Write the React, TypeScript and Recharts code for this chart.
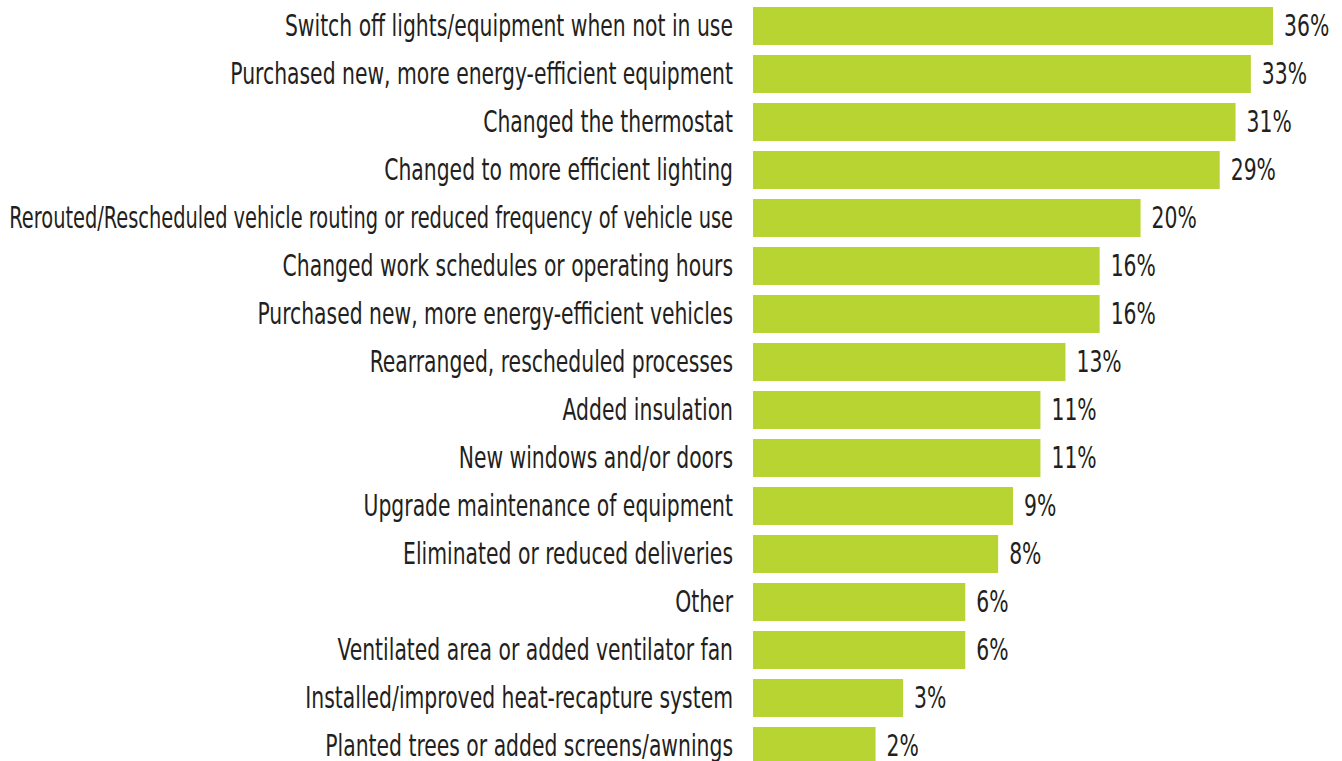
import { BarChart, Bar, XAxis, YAxis, LabelList } from 'recharts';

const actions = [
  'Switch off lights/equipment when not in use',
  'Purchased new, more energy-efficient equipment',
  'Changed the thermostat',
  'Changed to more efficient lighting',
  'Rerouted/Rescheduled vehicle routing or reduced frequency of vehicle use',
  'Changed work schedules or operating hours',
  'Purchased new, more energy-efficient vehicles',
  'Rearranged, rescheduled processes',
  'Added insulation',
  'New windows and/or doors',
  'Upgrade maintenance of equipment',
  'Eliminated or reduced deliveries',
  'Other',
  'Ventilated area or added ventilator fan',
  'Installed/improved heat-recapture system',
  'Planted trees or added screens/awnings',
];

const shares = [36, 33, 31, 29, 20, 16, 16, 13, 11, 11, 9, 8, 6, 6, 3, 2];

const FONT = "'DejaVu Sans Condensed', 'DejaVu Sans', sans-serif";
const INK = '#231f20';
// the original face is a tall, narrow grotesque; squeeze a wider font to match
const FONT_SIZE = 31;
const SQUEEZE = 0.73;
const MAX_LABEL = 724;

let ctx: CanvasRenderingContext2D | null = null;
function textWidth(s: string) {
  if (!ctx) ctx = document.createElement('canvas').getContext('2d');
  if (!ctx) return 0;
  ctx.font = `${FONT_SIZE}px ${FONT}`;
  return ctx.measureText(s).width;
}

const CategoryTick = ({ x, y, payload }: any) => {
  const w = textWidth(payload.value) * SQUEEZE;
  const sx = w > MAX_LABEL ? (SQUEEZE * MAX_LABEL) / w : SQUEEZE;
  return (
    <g transform={`translate(${x},${y}) scale(${sx},1)`}>
      <text textAnchor="end" dy="0.33em" fontSize={FONT_SIZE} fill={INK} fontFamily={FONT}>
        {payload.value}
      </text>
    </g>
  );
};

const ValueLabel = ({ x, y, width, height, value }: any) => (
  <g transform={`translate(${Number(x) + Number(width) + 11},${Number(y) + Number(height) / 2 - 1}) scale(${SQUEEZE},1)`}>
    <text textAnchor="start" dy="0.36em" fontSize={FONT_SIZE} fill={INK} fontFamily={FONT}>
      {`${value}%`}
    </text>
  </g>
);

export default function App() {
  const data = actions.map((name, i) => ({ name, value: shares[i] }));

  return (
    <div style={{ position: 'absolute', left: 0, top: 0, background: '#fff' }}>
      <BarChart
        width={1342}
        height={770}
        data={data}
        layout="vertical"
        margin={{ top: 2, right: 69, left: 0, bottom: 0 }}
        barSize={38}
      >
        <XAxis type="number" scale="sqrt" domain={[0, 36]} hide />
        <YAxis
          type="category"
          dataKey="name"
          width={753}
          axisLine={false}
          tickLine={false}
          tickSize={0}
          tickMargin={20}
          interval={0}
          tick={<CategoryTick />}
        />
        <Bar dataKey="value" fill="#b7d433" isAnimationActive={false}>
          <LabelList dataKey="value" content={<ValueLabel />} />
        </Bar>
      </BarChart>
    </div>
  );
}
